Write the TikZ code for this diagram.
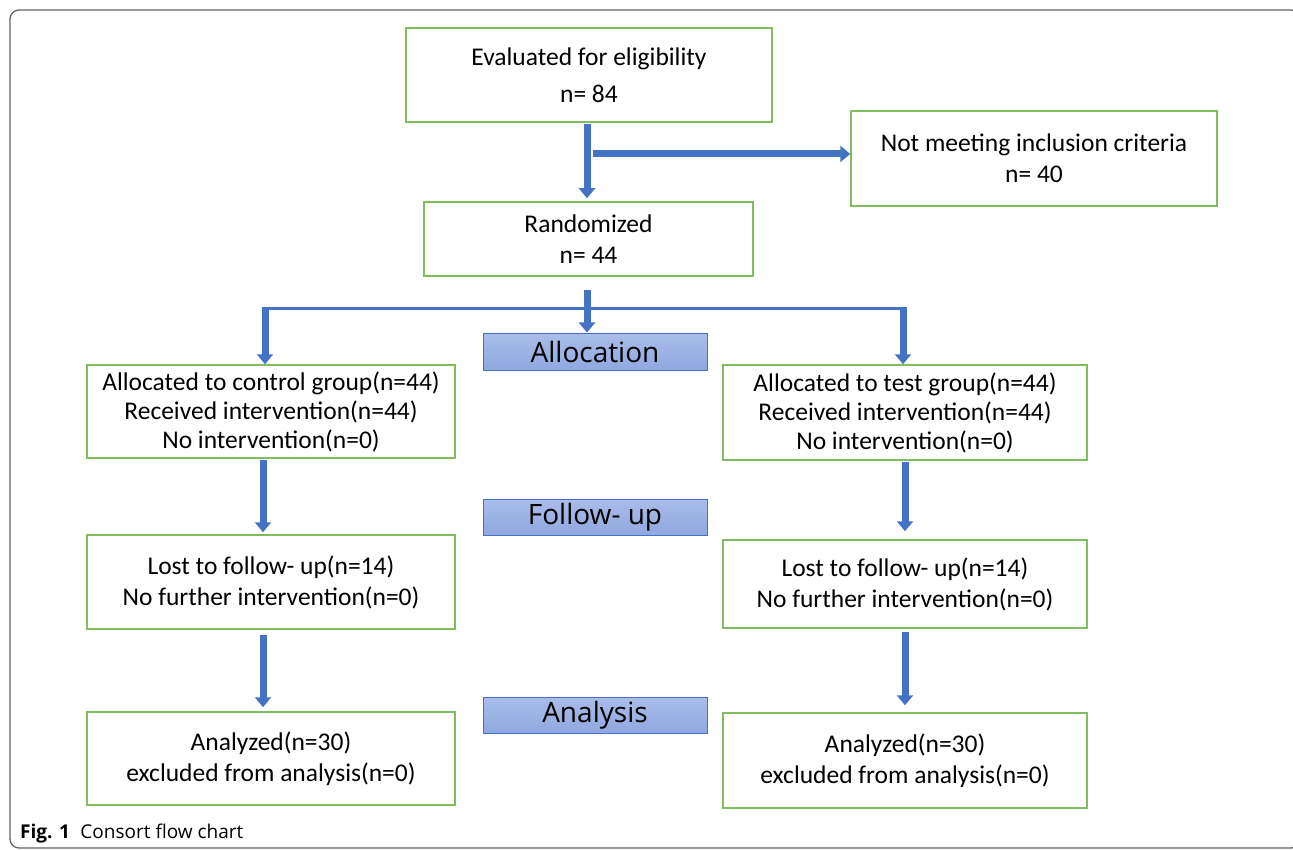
\documentclass[tikz,border=0pt]{standalone}
\usepackage{fontspec}
\setmainfont{Carlito}
\newfontfamily\capfont{Open Sans}
\newfontfamily\lblfont{Open Sans}
\usetikzlibrary{arrows.meta}
\definecolor{bxgreen}{RGB}{128,189,92}
\definecolor{arblue}{RGB}{68,114,196}
\definecolor{lbltop}{RGB}{170,189,234}
\definecolor{lblbot}{RGB}{143,168,222}
\definecolor{framegray}{RGB}{100,100,100}
\tikzset{
  box/.style={draw=bxgreen, line width=1.5pt, fill=white, align=center, inner sep=0pt,
              font=\fontsize{25.5}{31}\selectfont},
  lbl/.style={draw=arblue, line width=1pt, top color=lbltop, bottom color=lblbot,
              minimum width=224pt, inner sep=0pt, font=\lblfont\fontsize{28}{30}\selectfont},
  arr/.style={draw=arblue, line width=7pt, -{Triangle[width=16pt,length=10pt]}},
  thinbar/.style={draw=arblue, line width=3pt}
}
\begin{document}
\begin{tikzpicture}[x=1pt,y=-1pt]
\useasboundingbox (0,0) rectangle (1293,850);
\draw[framegray, line width=1.3pt, rounded corners=9pt] (10,10) rectangle (1300,848);

\node[box, minimum width=366pt, minimum height=94pt] (ev) at (589,75) {Evaluated for eligibility\\[6pt] n= 84};
\node[box, minimum width=366pt, minimum height=95pt] (nm) at (1034,158.5) {Not meeting inclusion criteria\\ n= 40};
\node[box, minimum width=329pt, minimum height=74pt] (rd) at (588.5,239) {Randomized\\ n= 44};

\node[lbl, minimum height=37pt] (alloc) at (595,351.5) {Allocation};
\node[lbl, minimum height=36pt] (fup) at (595,517) {Follow- up};
\node[lbl, minimum height=36pt] (ana) at (595,715) {Analysis};

\node[box, minimum width=368pt, minimum height=93pt, font=\fontsize{25.5}{29}\selectfont] (ctl) at (271,411.5)
  {Allocated to control group(n=44)\\ Received intervention(n=44)\\ No intervention(n=0)};
\node[box, minimum width=364pt, minimum height=95pt, font=\fontsize{25.5}{29}\selectfont] (tst) at (905,412.5)
  {Allocated to test group(n=44)\\ Received intervention(n=44)\\ No intervention(n=0)};

\node[box, minimum width=368pt, minimum height=94pt] (lostL) at (271,582)
  {Lost to follow- up(n=14)\\ No further intervention(n=0)};
\node[box, minimum width=364pt, minimum height=88pt] (lostR) at (905,584)
  {Lost to follow- up(n=14)\\ No further intervention(n=0)};

\node[box, minimum width=368pt, minimum height=93pt] (anL) at (271,758.5)
  {Analyzed(n=30)\\ excluded from analysis(n=0)};
\node[box, minimum width=364pt, minimum height=95pt] (anR) at (905,760.5)
  {Analyzed(n=30)\\ excluded from analysis(n=0)};

% connectors
\coordinate (e0) at (587,124);
\draw[arr] (e0) -- ([yshift=3pt]e0 |- rd.north);
\coordinate (h0) at (593,154);
\draw[arr] (h0) -- (h0 -| nm.west);

\coordinate (bC) at (587,290);
\coordinate (bL) at (265,309);
\coordinate (bR) at (903,309);
\draw[thinbar] (bL) -- (bR);
\draw[arr] (bC) -- (bC |- alloc.north);
\draw[arr] ([yshift=1.5pt]bL) -- (bL |- ctl.north);
\draw[arr] ([yshift=1.5pt]bR) -- (bR |- tst.north);

\coordinate (l1) at (263,460);
\draw[arr] (l1) -- ([yshift=2pt]l1 |- lostL.north);
\coordinate (l2) at (263,635);
\draw[arr] (l2) -- ([yshift=4pt]l2 |- anL.north);
\coordinate (r1) at (905,462);
\draw[arr] (r1) -- ([yshift=8pt]r1 |- lostR.north);
\coordinate (r2) at (905,632);
\draw[arr] (r2) -- ([yshift=7pt]r2 |- anR.north);

\node[anchor=base west, inner sep=0pt, font=\capfont\fontsize{19}{22}\selectfont] (cap) at (20,838)
  {\textbf{Fig. 1}\hspace{0.55em}Consort flow chart};
\end{tikzpicture}
\end{document}
